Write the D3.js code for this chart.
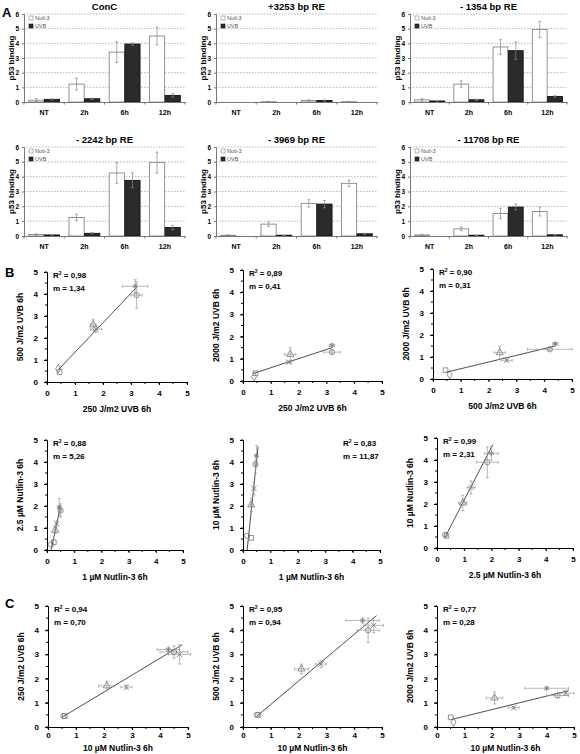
<!DOCTYPE html>
<html><head><meta charset="utf-8">
<script src="https://cdn.jsdelivr.net/npm/d3@7"></script>
<style>body{margin:0;background:#fff}svg{display:block;font-family:"Liberation Sans",Arial,sans-serif}</style>
</head><body>
<svg id="c" width="580" height="754"></svg>
<script>
// ---------- DATA ----------
const categories = ["NT", "2h", "6h", "12h"];
const barTitles = ["ConC", "+3253 bp RE", "- 1354 bp RE", "- 2242 bp RE", "- 3969 bp RE", "- 11708 bp RE"];
const seriesNames = ["Nutl-3", "UVB"];
const barTicks = [0, 1, 2, 3, 4, 5, 6];
const nutlinValues = [
  [0.12, 1.22, 3.40, 4.50],
  [0.00, 0.02, 0.10, 0.02],
  [0.15, 1.22, 3.75, 4.95],
  [0.10, 1.25, 4.25, 4.95],
  [0.05, 0.80, 2.20, 3.55],
  [0.07, 0.48, 1.52, 1.65]
];
const nutlinErrors = [
  [0.10, 0.40, 0.70, 0.60],
  [0.00, 0.02, 0.05, 0.02],
  [0.08, 0.22, 0.50, 0.55],
  [0.05, 0.22, 0.70, 0.70],
  [0.03, 0.15, 0.25, 0.22],
  [0.05, 0.12, 0.35, 0.30]
];
const uvbValues = [
  [0.18, 0.22, 3.95, 0.45],
  [0.00, 0.00, 0.10, 0.00],
  [0.07, 0.15, 3.50, 0.38],
  [0.07, 0.18, 3.75, 0.57],
  [0.00, 0.05, 2.15, 0.15],
  [0.00, 0.05, 1.95, 0.08]
];
const uvbErrors = [
  [0.04, 0.04, 0.08, 0.12],
  [0.00, 0.00, 0.04, 0.00],
  [0.02, 0.05, 0.60, 0.05],
  [0.02, 0.05, 0.50, 0.15],
  [0.00, 0.02, 0.25, 0.03],
  [0.00, 0.02, 0.20, 0.03]
];

const scatterTicks = [0, 1, 2, 3, 4, 5];
const scatterXTitles = ["250 J/m2 UVB 6h", "250 J/m2 UVB 6h", "500 J/m2 UVB 6h",
  "1 \u00b5M Nutlin-3 6h", "1 \u00b5M Nutlin-3 6h", "2.5 \u00b5M Nutlin-3 6h",
  "10 \u00b5M Nutlin-3 6h", "10 \u00b5M Nutlin-3 6h", "10 \u00b5M Nutlin-3 6h"];
const scatterYTitles = ["500 J/m2 UVB 6h", "2000 J/m2 UVB 6h", "2000 J/m2 UVB 6h",
  "2.5 \u00b5M Nutlin-3 6h", "10 \u00b5M Nutlin-3 6h", "10 \u00b5M Nutlin-3 6h",
  "250 J/m2 UVB 6h", "500 J/m2 UVB 6h", "2000 J/m2 UVB 6h"];
const r2Values = ["0,98", "0,89", "0,90", "0,88", "0,83", "0,99", "0,94", "0,95", "0,77"];
const slopeValues = ["1,34", "0,41", "0,31", "5,26", "11,87", "2,31", "0,70", "0,94", "0,28"];
// points: [symbol, x, y, xErr, yErr]
const scatterPoints = [
  [["square",0.45,0.45,0,0],["diamond",0.40,0.60,0,0],["triangle",1.65,2.60,0.10,0.25],["times",1.75,2.40,0.20,0.15],["circle",3.20,3.95,0.20,0.60],["asterisk",3.15,4.35,0.45,0.30]],
  [["diamond",0.40,0.20,0,0],["square",0.45,0.35,0,0],["triangle",1.70,1.20,0.20,0.30],["times",1.65,0.85,0.10,0.05],["circle",3.20,1.30,0.30,0.08],["asterisk",3.20,1.60,0.10,0.08]],
  [["square",0.45,0.40,0,0],["diamond",0.60,0.20,0,0],["triangle",2.40,1.20,0.20,0.30],["times",2.65,0.85,0.20,0.05],["circle",4.20,1.35,0.80,0.06],["asterisk",4.40,1.60,0.10,0.06]],
  [["circle",0.15,0.25,0,0],["square",0.25,0.35,0,0],["triangle",0.30,0.90,0.03,0.15],["times",0.35,1.20,0.03,0.15],["circle",0.50,1.80,0.03,0.30],["asterisk",0.45,1.95,0.05,0.40]],
  [["circle",0.15,0.65,0,0],["square",0.30,0.55,0,0],["triangle",0.30,2.05,0.03,0.30],["times",0.40,2.80,0.03,0.30],["circle",0.45,3.90,0.03,0.40],["asterisk",0.50,4.30,0.03,0.45]],
  [["circle",0.30,0.60,0,0],["square",0.35,0.55,0,0],["triangle",0.95,2.05,0.15,0.35],["times",1.25,2.75,0.15,0.30],["circle",1.85,3.90,0.40,0.70],["asterisk",2.00,4.30,0.25,0.30]],
  [["circle",0.55,0.45,0,0],["square",0.60,0.45,0,0],["triangle",2.10,1.70,0.30,0.20],["times",2.80,1.65,0.20,0.08],["circle",4.50,3.10,0.50,0.25],["asterisk",4.30,3.20,0.40,0.10],["times",4.70,3.00,0.40,0.40]],
  [["circle",0.50,0.50,0,0],["square",0.55,0.50,0,0],["triangle",2.10,2.40,0.25,0.20],["times",2.80,2.60,0.20,0.15],["asterisk",4.30,4.40,0.60,0.10],["circle",4.50,4.00,0.40,0.50],["times",4.70,4.20,0.35,0.30]],
  [["square",0.50,0.40,0,0],["diamond",0.60,0.20,0,0],["triangle",2.10,1.20,0.30,0.25],["times",2.80,0.80,0.20,0.05],["asterisk",4.00,1.60,0.80,0.05],["circle",4.40,1.30,0.40,0.08],["times",4.70,1.40,0.30,0.10]]
];
// fitted lines: [xStart, yStart, xEnd, yEnd]
const fitLines = [
  [0.40,0.55,3.20,4.30],[0.40,0.35,3.20,1.50],[0.45,0.30,4.40,1.50],
  [0.15,0.00,0.50,2.00],[0.15,0.00,0.55,4.70],[0.30,0.50,2.05,4.70],
  [0.50,0.40,4.80,3.40],[0.50,0.45,4.80,4.60],[0.50,0.30,4.80,1.50]
];

// ---------- LAYOUT ----------
const svg = d3.select("#c");
const barPanels = [
  {x0:24, x1:185, yb:102, yt:14}, {x0:216, x1:377, yb:102, yt:14}, {x0:410, x1:567, yb:102, yt:14},
  {x0:24, x1:185, yb:236, yt:147}, {x0:216, x1:377, yb:236, yt:147}, {x0:410, x1:567, yb:236, yt:147}
];
const scPanels = [
  {x0:47, x1:187, y0:382, y5:272, tOff:30, pad:5}, {x0:243, x1:382, y0:381, y5:270, tOff:30, pad:5}, {x0:433, x1:572, y0:379, y5:269, tOff:30, pad:5},
  {x0:47, x1:183, y0:550, y5:440, tOff:30, pad:5}, {x0:243, x1:380, y0:550, y5:440, tOff:30, pad:5, right:true}, {x0:437, x1:573, y0:548, y5:438, tOff:30, pad:5},
  {x0:48, x1:188, y0:727, y5:606, tOff:24, pad:2}, {x0:243, x1:382, y0:727, y5:606, tOff:24, pad:2}, {x0:437, x1:574, y0:727, y5:606, tOff:24, pad:2}
];

// panel letters
[["A",2,17],["B",5,277],["C",5,608]].forEach(([t,x,y]) =>
  svg.append("text").attr("x",x).attr("y",y).attr("font-size",13).attr("font-weight","bold").text(t));

// ---------- BAR CHARTS ----------
barPanels.forEach((p, i) => {
  const g = svg.append("g");
  const y = d3.scaleLinear().domain([0, 6]).range([p.yb, p.yt]);
  const x = d3.scaleBand().domain(categories).range([p.x0, p.x1]);
  const inner = d3.scaleBand().domain(seriesNames).range([0, x.bandwidth()]).paddingInner(0.03).paddingOuter(0.3);
  g.append("g").selectAll("line").data(barTicks.slice(1)).join("line")
    .attr("x1", p.x0).attr("x2", p.x1).attr("y1", d => y(d)).attr("y2", d => y(d))
    .attr("stroke", "#999").attr("stroke-width", 0.7).attr("stroke-dasharray", "1.5,1.5");
  const rows = categories.map((c, k) => [
    {c, s:"Nutl-3", v:nutlinValues[i][k], e:nutlinErrors[i][k]},
    {c, s:"UVB", v:uvbValues[i][k], e:uvbErrors[i][k]}
  ]).flat();
  g.append("g").selectAll("rect").data(rows).join("rect")
    .attr("x", d => x(d.c) + inner(d.s)).attr("width", inner.bandwidth())
    .attr("y", d => y(d.v)).attr("height", d => y(0) - y(d.v))
    .attr("fill", d => d.s === "UVB" ? "#2b2b2b" : "#fff")
    .attr("stroke", d => d.s === "UVB" ? "#111" : "#888").attr("stroke-width", 0.9);
  const eb = rows.filter(d => d.e > 0);
  const cx = d => x(d.c) + inner(d.s) + inner.bandwidth() / 2;
  const lo = d => Math.max(0, d.v - d.e), hi = d => d.v + d.e;
  const eg = g.append("g").attr("stroke", "#888").attr("stroke-width", 0.7);
  eg.selectAll("line.v").data(eb).join("line").attr("class", "v")
    .attr("x1", cx).attr("x2", cx).attr("y1", d => y(hi(d))).attr("y2", d => y(lo(d)));
  eg.selectAll("line.t").data(eb).join("line").attr("class", "t")
    .attr("x1", d => cx(d) - 1.5).attr("x2", d => cx(d) + 1.5).attr("y1", d => y(hi(d))).attr("y2", d => y(hi(d)));
  eg.selectAll("line.b").data(eb).join("line").attr("class", "b")
    .attr("x1", d => cx(d) - 1.5).attr("x2", d => cx(d) + 1.5).attr("y1", d => y(lo(d))).attr("y2", d => y(lo(d)));
  const ya = g.append("g").attr("transform", `translate(${p.x0},0)`)
    .call(d3.axisLeft(y).tickValues(barTicks).tickSize(2).tickPadding(3).tickFormat(d3.format("d")));
  ya.select(".domain").attr("stroke", "#777");
  ya.selectAll(".tick line").attr("stroke", "#777");
  ya.selectAll("text").attr("font-size", 6.5).attr("font-weight", "bold").attr("font-family", "Liberation Sans, Arial");
  const xa = g.append("g").attr("transform", `translate(0,${p.yb})`)
    .call(d3.axisBottom(x).tickSize(0).tickPadding(8));
  xa.select(".domain").attr("stroke", "#777");
  xa.selectAll("text").attr("font-size", 7).attr("font-weight", "bold").attr("font-family", "Liberation Sans, Arial");
  const bnd = categories.map(c => x(c)).concat([p.x1]);
  g.append("g").selectAll("line").data(bnd).join("line").attr("x1", d => d).attr("x2", d => d)
    .attr("y1", p.yb).attr("y2", p.yb + 2.5).attr("stroke", "#777");
  g.append("text").attr("x", (p.x0 + p.x1) / 2).attr("y", p.yt - 4).attr("text-anchor", "middle")
    .attr("font-size", 9.5).attr("font-weight", "bold").text(barTitles[i]);
  g.append("text").attr("transform", `translate(${p.x0 - 10},${(p.yb + p.yt) / 2}) rotate(-90)`)
    .attr("text-anchor", "middle").attr("font-size", 8).attr("font-weight", "bold").text("p53 binding");
  seriesNames.forEach((s, k) => {
    g.append("rect").attr("x", p.x0 + 5).attr("y", p.yt + 2 + k * 8).attr("width", 4).attr("height", 4)
      .attr("fill", k ? "#2b2b2b" : "#fff").attr("stroke", k ? "#111" : "#888").attr("stroke-width", 0.6);
    g.append("text").attr("x", p.x0 + 11).attr("y", p.yt + 6 + k * 8).attr("font-size", 5.5)
      .attr("fill", "#555").text(s);
  });
});

// ---------- SCATTER PLOTS ----------
const symMap = {square:d3.symbolSquare, diamond:d3.symbolDiamond, triangle:d3.symbolTriangle,
  times:d3.symbolTimes, circle:d3.symbolCircle, asterisk:d3.symbolAsterisk};
scPanels.forEach((p, i) => {
  const g = svg.append("g");
  const x = d3.scaleLinear().domain([0, 5]).range([p.x0, p.x1]);
  const y = d3.scaleLinear().domain([0, 5]).range([p.y0, p.y5]);
  const minor = d3.range(0, 5.01, 0.5);
  g.append("g").selectAll("line").data(minor).join("line").attr("x1", d => x(d)).attr("x2", d => x(d))
    .attr("y1", p.y0).attr("y2", p.y0 + 2).attr("stroke", "#000");
  g.append("g").selectAll("line").data(minor).join("line").attr("y1", d => y(d)).attr("y2", d => y(d))
    .attr("x1", p.x0).attr("x2", p.x0 - 2).attr("stroke", "#000");
  const xa = g.append("g").attr("transform", `translate(0,${p.y0})`)
    .call(d3.axisBottom(x).tickValues(scatterTicks).tickSize(3).tickPadding(p.pad).tickFormat(d3.format("d")));
  const ya = g.append("g").attr("transform", `translate(${p.x0},0)`)
    .call(d3.axisLeft(y).tickValues(scatterTicks).tickSize(3).tickPadding(6).tickFormat(d3.format("d")));
  [xa, ya].forEach(a => a.selectAll("text").attr("font-size", 8).attr("font-weight", "bold")
    .attr("font-family", "Liberation Sans, Arial"));
  const f = fitLines[i];
  g.append("line").attr("x1", x(f[0])).attr("y1", y(f[1])).attr("x2", x(f[2])).attr("y2", y(f[3]))
    .attr("stroke", "#222").attr("stroke-width", 0.8);
  const pts = scatterPoints[i].map(d => ({s:d[0], x:d[1], y:d[2], xe:d[3], ye:d[4]}));
  const eg = g.append("g").attr("stroke", "#999").attr("stroke-width", 0.7);
  pts.forEach(d => {
    if (d.xe > 0) {
      eg.append("line").attr("x1", x(d.x - d.xe)).attr("x2", x(d.x + d.xe)).attr("y1", y(d.y)).attr("y2", y(d.y));
      [d.x - d.xe, d.x + d.xe].forEach(v => eg.append("line").attr("x1", x(v)).attr("x2", x(v))
        .attr("y1", y(d.y) - 1.5).attr("y2", y(d.y) + 1.5));
    }
    if (d.ye > 0) {
      eg.append("line").attr("x1", x(d.x)).attr("x2", x(d.x)).attr("y1", y(d.y - d.ye)).attr("y2", y(d.y + d.ye));
      [d.y - d.ye, d.y + d.ye].forEach(v => eg.append("line").attr("y1", y(v)).attr("y2", y(v))
        .attr("x1", x(d.x) - 1.5).attr("x2", x(d.x) + 1.5));
    }
  });
  g.append("g").selectAll("path").data(pts).join("path")
    .attr("transform", d => `translate(${x(d.x)},${y(d.y)})`)
    .attr("d", d => d3.symbol(symMap[d.s], 22)())
    .attr("fill", "#fff").attr("fill-opacity", 0).attr("stroke", "#777").attr("stroke-width", 0.8);
  g.append("text").attr("x", (p.x0 + p.x1) / 2).attr("y", p.y0 + p.tOff).attr("text-anchor", "middle")
    .attr("font-size", 8.5).attr("font-weight", "bold").text(scatterXTitles[i]);
  g.append("text").attr("transform", `translate(${p.x0 - 24},${(p.y0 + p.y5) / 2}) rotate(-90)`)
    .attr("text-anchor", "middle").attr("font-size", 8.5).attr("font-weight", "bold").text(scatterYTitles[i]);
  const tx = p.right ? p.x0 + 100 : p.x0 + 6;
  const r = g.append("text").attr("x", tx).attr("y", p.y5 + 6).attr("font-size", 8).attr("font-weight", "bold");
  r.append("tspan").text("R");
  r.append("tspan").attr("font-size", 5).attr("dy", -3).text("2");
  r.append("tspan").attr("dy", 3).text(" = " + r2Values[i]);
  g.append("text").attr("x", tx).attr("y", p.y5 + 19).attr("font-size", 8).attr("font-weight", "bold")
    .text("m = " + slopeValues[i]);
});
</script>
</body></html>
